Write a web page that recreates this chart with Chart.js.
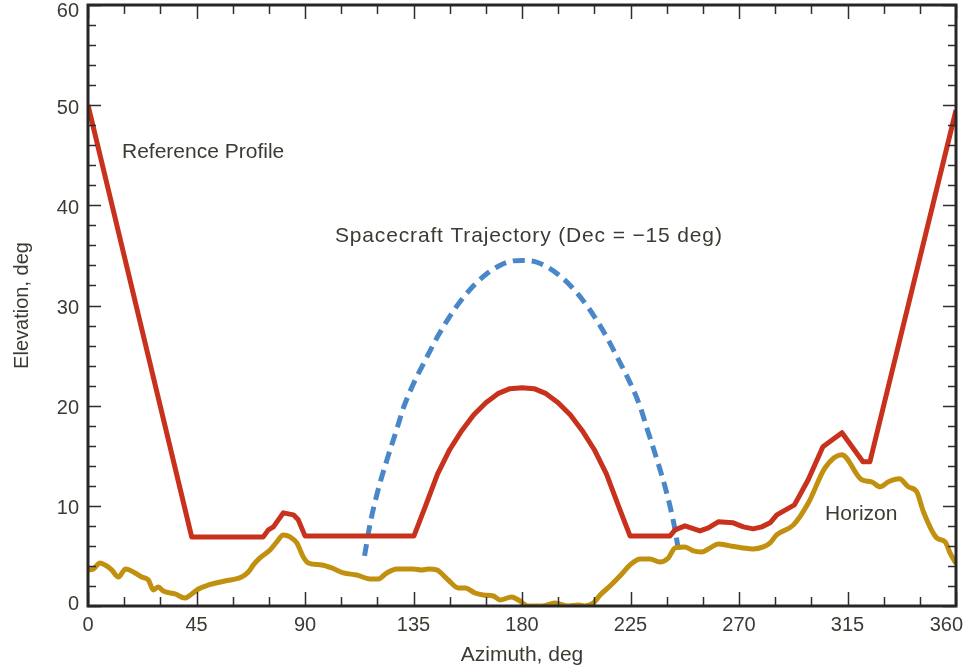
<!DOCTYPE html>
<html>
<head>
<meta charset="utf-8">
<script src="https://cdn.jsdelivr.net/npm/chart.js@4.4.1/dist/chart.umd.min.js"></script>
<style>
  html, body { margin: 0; padding: 0; background: #fff; }
  #wrap { width: 971px; height: 671px; }
</style>
</head>
<body>
<div id="wrap"><canvas id="chart" width="971" height="671"></canvas></div>
<script>
'use strict';
// Reference profile (red)
const refAz = [0, 43, 72.7, 74.8, 76.9, 81, 85.2, 87.2, 90, 135.2, 140, 145, 150, 155, 160, 165, 170, 175, 180,
  185, 190, 195, 200, 205, 210, 215, 220, 224.8, 241.4, 243.5, 247.6, 253.8, 257.3, 261.4, 267.6, 271.8, 275.9,
  279.4, 282.9, 285.7, 293, 298.7, 304.8, 312.7, 321.4, 324.3, 360];
const refEl = [50, 6.9, 6.9, 7.6, 7.9, 9.3, 9.1, 8.6, 7.0, 7.0, 10.0, 13.2, 15.6, 17.5, 19.1, 20.3, 21.2, 21.7, 21.8,
  21.7, 21.2, 20.3, 19.1, 17.5, 15.6, 13.2, 10.0, 7.0, 7.0, 7.6, 8.0, 7.5, 7.8, 8.4, 8.3, 7.9, 7.7,
  7.9, 8.3, 9.1, 10.1, 12.6, 15.9, 17.3, 14.4, 14.4, 49.5];

// Horizon (gold)
const horAz = [0, 2.2, 5, 7.7, 9.8, 12.6, 15.6, 19.5, 22.3, 25, 27.1, 29.2, 31.2, 36.1, 40.2, 43, 45.8, 49.9, 56.8, 63.7,
  66.5, 68.6, 71.3, 75.5, 78.3, 81, 83.8, 86.6, 89.3, 91.4, 96.9, 101.1, 105.9, 111.4, 117, 120.4, 123.9, 128, 134.9,
  138.4, 141.2, 144.6, 149.4, 153.6, 156.4, 160.5, 164, 168.1, 170.9, 175.7, 178.5, 182.6, 188.2, 193.7, 199.2, 203.4,
  206, 209.6, 212.4, 216.5, 221.4, 224.8, 229, 233.1, 237.2, 240.7, 243.5, 247.6, 251.1, 254.5, 258, 261.4, 266.3,
  271.8, 275.9, 280.1, 282.9, 285.6, 292.6, 298.8, 305.7, 312.6, 320.9, 325, 328.5, 332, 336.5, 340.2, 343.7, 346.5,
  352, 355.5, 357.5, 359.6];
const horEl = [3.6, 3.7, 4.3, 4.0, 3.6, 2.9, 3.7, 3.3, 2.9, 2.6, 1.6, 1.9, 1.5, 1.2, 0.8, 1.2, 1.7, 2.1, 2.5, 2.9,
  3.4, 4.1, 4.8, 5.6, 6.4, 7.1, 6.9, 6.3, 4.9, 4.3, 4.1, 3.8, 3.3, 3.1, 2.7, 2.7, 3.3, 3.7, 3.7,
  3.6, 3.7, 3.6, 2.6, 1.8, 1.8, 1.3, 1.1, 1.0, 0.6, 0.9, 0.6, 0, 0, 0.3, 0, 0.1,
  0, 0.3, 1.1, 2.0, 3.2, 4.1, 4.7, 4.7, 4.4, 4.8, 5.8, 5.9, 5.5, 5.4, 5.8, 6.2, 6.0,
  5.8, 5.7, 5.9, 6.3, 7.1, 8.1, 10.3, 13.8, 15.1, 12.6, 12.4, 11.9, 12.4, 12.7, 11.9, 11.4, 9.4,
  6.8, 6.4, 5.3, 4.4];

// Spacecraft trajectory (blue dashed)
const trajAz = [114.7, 117, 120, 124, 128, 131, 135, 140, 145, 150, 155, 160, 165, 170, 175, 180,
  185, 190, 195, 200, 205, 210, 215, 220, 225, 229, 232, 236, 240, 243, 245.3];
const trajEl = [5.0, 8.2, 11.3, 14.6, 17.6, 19.9, 22.2, 24.6, 26.9, 28.9, 30.6, 32.0, 33.1, 33.9, 34.4, 34.5,
  34.4, 33.9, 33.1, 32.0, 30.6, 28.9, 26.9, 24.6, 22.2, 19.9, 17.6, 14.6, 11.3, 8.2, 5.0];

const xTicks = [0, 45, 90, 135, 180, 225, 270, 315, 360];
const yTicks = [0, 10, 20, 30, 40, 50, 60];
const xMinorStep = 15;
const yMinorStep = 2;

const TEXT = '#3b3b33';
const FONT = '"Liberation Sans", Arial, Helvetica, sans-serif';
const pts = (xs, ys) => xs.map((x, i) => ({ x, y: ys[i] }));

// frame, inward ticks on all four sides, tick labels kept inside the canvas, in-plot labels
const framePlugin = {
  id: 'frame',
  afterDatasetsDraw(chart) {
    const { ctx, chartArea: a, scales: { x, y }, width: W } = chart;
    ctx.save();
    ctx.strokeStyle = '#2e2e2e';
    ctx.lineWidth = 1.5;
    ctx.beginPath();
    for (let v = 0; v <= 360; v += xMinorStep) {
      const px = Math.round(x.getPixelForValue(v)) + 0.5;
      const len = v % 45 === 0 ? 14 : 9;
      ctx.moveTo(px, a.bottom); ctx.lineTo(px, a.bottom - len);
      ctx.moveTo(px, a.top); ctx.lineTo(px, a.top + len);
    }
    for (let v = 0; v <= 60; v += yMinorStep) {
      const py = Math.round(y.getPixelForValue(v)) + 0.5;
      const len = v % 10 === 0 ? 13 : 8;
      ctx.moveTo(a.left, py); ctx.lineTo(a.left + len, py);
      ctx.moveTo(a.right, py); ctx.lineTo(a.right - len, py);
    }
    ctx.stroke();
    ctx.lineWidth = 3;
    ctx.strokeStyle = '#262626';
    ctx.strokeRect(a.left, a.top, a.right - a.left, a.bottom - a.top);

    ctx.fillStyle = TEXT;
    ctx.font = '20px ' + FONT;
    ctx.textBaseline = 'middle';
    ctx.textAlign = 'center';
    xTicks.forEach(v => {
      const t = String(v);
      const w = ctx.measureText(t).width;
      const cx = Math.min(x.getPixelForValue(v), W - 8 - w / 2);
      ctx.fillText(t, cx, a.bottom + 19);
    });
    ctx.textAlign = 'right';
    yTicks.forEach(v => {
      const cy = Math.min(Math.max(y.getPixelForValue(v) + 3, 11), a.bottom - 2);
      ctx.fillText(String(v), a.left - 9, cy);
    });

    ctx.font = '21px ' + FONT;
    ctx.textAlign = 'left';
    ctx.fillText('Reference Profile', x.getPixelForValue(14.1), y.getPixelForValue(45.3));
    ctx.fillText('Horizon', x.getPixelForValue(305.7), y.getPixelForValue(9.2));
    ctx.letterSpacing = '0.85px';
    ctx.fillText('Spacecraft Trajectory (Dec = \u221215 deg)', x.getPixelForValue(102.4), y.getPixelForValue(36.9));
    ctx.restore();
  }
};

new Chart(document.getElementById('chart'), {
  type: 'line',
  data: {
    datasets: [
      {
        label: 'Horizon',
        data: pts(horAz, horEl),
        borderColor: '#c0900e',
        borderWidth: 5,
        pointRadius: 0,
        cubicInterpolationMode: 'monotone',
        borderJoinStyle: 'round',
        borderCapStyle: 'round'
      },
      {
        label: 'Reference Profile',
        data: pts(refAz, refEl),
        borderColor: '#c8311c',
        borderWidth: 5,
        pointRadius: 0,
        tension: 0,
        borderJoinStyle: 'round'
      },
      {
        label: 'Spacecraft Trajectory',
        data: pts(trajAz, trajEl),
        borderColor: '#4a87c9',
        borderWidth: 5,
        borderDash: [12, 7],
        pointRadius: 0,
        cubicInterpolationMode: 'monotone'
      }
    ]
  },
  options: {
    responsive: false,
    animation: false,
    layout: { padding: { top: 5, right: 15, left: 0, bottom: 0 } },
    plugins: { legend: { display: false }, tooltip: { enabled: false } },
    scales: {
      x: {
        type: 'linear',
        min: 0, max: 360,
        afterFit: s => { s.height = 65; s.paddingLeft = 0; s.paddingRight = 0; },
        afterBuildTicks: s => { s.ticks = xTicks.map(v => ({ value: v })); },
        grid: { display: false, drawTicks: false },
        border: { display: false },
        ticks: { display: false },
        title: { display: true, text: 'Azimuth, deg', color: TEXT, font: { size: 21, family: FONT }, padding: { top: 0, bottom: 3 } }
      },
      y: {
        min: 0, max: 60,
        afterFit: s => { s.width = 88; s.paddingTop = 0; s.paddingBottom = 0; },
        afterBuildTicks: s => { s.ticks = yTicks.map(v => ({ value: v })); },
        grid: { display: false, drawTicks: false },
        border: { display: false },
        ticks: { display: false },
        title: { display: true, text: 'Elevation, deg', color: TEXT, font: { size: 20, family: FONT }, padding: { top: 10, bottom: 0 } }
      }
    }
  },
  plugins: [framePlugin]
});
</script>
</body>
</html>
